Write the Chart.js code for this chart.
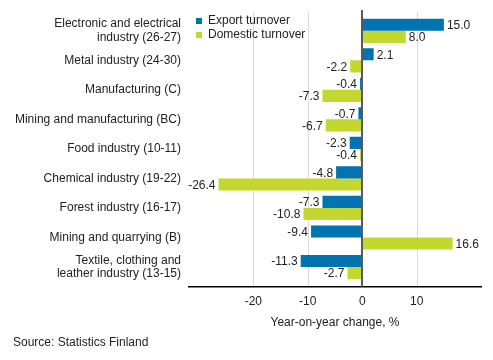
<!DOCTYPE html>
<html>
<head>
<meta charset="utf-8">
<script src="https://cdn.jsdelivr.net/npm/chart.js@4"></script>
<style>
  html, body { margin: 0; padding: 0; background: #fff; }
  #wrap { width: 493px; height: 360px; position: relative; }
</style>
</head>
<body>
<div id="wrap"><canvas id="turnoverChart"></canvas></div>
<script>
const industries = [
  ["Electronic and electrical", "industry (26-27)"],
  "Metal industry (24-30)",
  "Manufacturing (C)",
  "Mining and manufacturing (BC)",
  "Food industry (10-11)",
  "Chemical industry (19-22)",
  "Forest industry (16-17)",
  "Mining and quarrying (B)",
  ["Textile, clothing and", "leather industry (13-15)"],
];
const exportTurnover = [15.0, 2.1, -0.4, -0.7, -2.3, -4.8, -7.3, -9.4, -11.3];
const domesticTurnover = [8.0, -2.2, -7.3, -6.7, -0.4, -26.4, -10.8, 16.6, -2.7];
const xTicks = [-20, -10, 0, 10];

const palette = {
  blue: "#0073b0",
  green: "#c3d72e",
  text: "#222222",
  grid: "#d9d9d9",
  zero: "#5a5a5a",
};
const fontFamily = "'Liberation Sans', Arial, sans-serif";
const axisGap = 5;

// grid lines and the bottom axis line sit a little below the bar band
const axisLines = {
  id: "axisLines",
  beforeDatasetsDraw(chart) {
    const ctx = chart.ctx;
    const x = chart.scales.x;
    const area = chart.chartArea;
    ctx.save();
    ctx.strokeStyle = palette.grid;
    ctx.lineWidth = 1;
    xTicks.filter((v) => v !== 0).forEach((v) => {
      const px = Math.round(x.getPixelForValue(v)) + 0.5;
      ctx.beginPath();
      ctx.moveTo(px, area.top - 4);
      ctx.lineTo(px, area.bottom + axisGap);
      ctx.stroke();
    });
    ctx.strokeStyle = "#000";
    ctx.lineWidth = 1.5;
    ctx.beginPath();
    ctx.moveTo(area.left, area.bottom + axisGap);
    ctx.lineTo(area.right, area.bottom + axisGap);
    ctx.stroke();
    ctx.restore();
  },
  afterDatasetsDraw(chart) {
    const ctx = chart.ctx;
    const area = chart.chartArea;
    const zx = Math.round(chart.scales.x.getPixelForValue(0));
    ctx.save();
    ctx.strokeStyle = palette.zero;
    ctx.lineWidth = 2;
    ctx.beginPath();
    ctx.moveTo(zx, area.top - 6);
    ctx.lineTo(zx, area.bottom + axisGap);
    ctx.stroke();
    ctx.restore();
  },
};

// value labels next to bar ends
const valueLabels = {
  id: "valueLabels",
  afterDatasetsDraw(chart) {
    const ctx = chart.ctx;
    ctx.save();
    ctx.font = "12px " + fontFamily;
    ctx.fillStyle = palette.text;
    ctx.textBaseline = "middle";
    chart.data.datasets.forEach((ds, i) => {
      chart.getDatasetMeta(i).data.forEach((bar, j) => {
        const v = ds.data[j];
        if (v >= 0) {
          ctx.textAlign = "left";
          ctx.fillText(v.toFixed(1), bar.x + 3, bar.y + 1);
        } else {
          ctx.textAlign = "right";
          ctx.fillText(v.toFixed(1), bar.x - 3, bar.y + 1);
        }
      });
    });
    ctx.restore();
  },
};

// small square legend inside the plot, top left
const boxLegend = {
  id: "boxLegend",
  afterDraw(chart) {
    const ctx = chart.ctx;
    const left = chart.chartArea.left + 8;
    ctx.save();
    ctx.font = "12px " + fontFamily;
    ctx.textBaseline = "middle";
    ctx.textAlign = "left";
    chart.data.datasets.forEach((ds, i) => {
      const y = 21 + i * 14;
      ctx.fillStyle = ds.backgroundColor;
      ctx.fillRect(left, y - 3, 6, 6);
      ctx.fillStyle = palette.text;
      ctx.fillText(ds.label, left + 12, y);
    });
    ctx.restore();
  },
};

new Chart(document.getElementById("turnoverChart"), {
  type: "bar",
  data: {
    labels: industries,
    datasets: [
      {
        label: "Export turnover",
        data: exportTurnover,
        backgroundColor: palette.blue,
      },
      {
        label: "Domestic turnover",
        data: domesticTurnover,
        backgroundColor: palette.green,
      },
    ],
  },
  options: {
    indexAxis: "y",
    responsive: true,
    maintainAspectRatio: false,
    animation: false,
    datasets: {
      bar: {
        barPercentage: 1,
        categoryPercentage: 0.82,
      },
    },
    layout: {
      padding: { top: 16, right: 11, bottom: 0, left: 13 },
    },
    plugins: {
      legend: { display: false },
      tooltip: { enabled: false },
      subtitle: {
        display: true,
        position: "bottom",
        align: "start",
        text: "Source: Statistics Finland",
        color: palette.text,
        font: { family: fontFamily, size: 12 },
        padding: { top: 4, bottom: 10 },
      },
    },
    scales: {
      x: {
        type: "linear",
        min: -32,
        max: 22,
        afterBuildTicks(scale) {
          scale.ticks = xTicks.map((v) => ({ value: v }));
        },
        grid: { display: false, drawTicks: false },
        border: { display: false },
        ticks: {
          color: palette.text,
          padding: 13,
          font: { family: fontFamily, size: 12 },
        },
        title: {
          display: true,
          text: "Year-on-year change, %",
          color: palette.text,
          font: { family: fontFamily, size: 12 },
          padding: { top: -7, bottom: 2 },
        },
      },
      y: {
        type: "category",
        offset: true,
        grid: { display: false, drawTicks: false },
        border: { display: false },
        afterFit(scale) {
          scale.width = 175;
          scale.paddingTop = 0;
          scale.paddingBottom = 0;
        },
        ticks: {
          color: palette.text,
          padding: 7,
          autoSkip: false,
          font: { family: fontFamily, size: 12, lineHeight: 1.1 },
        },
      },
    },
  },
  plugins: [axisLines, valueLabels, boxLegend],
});
</script>
</body>
</html>
